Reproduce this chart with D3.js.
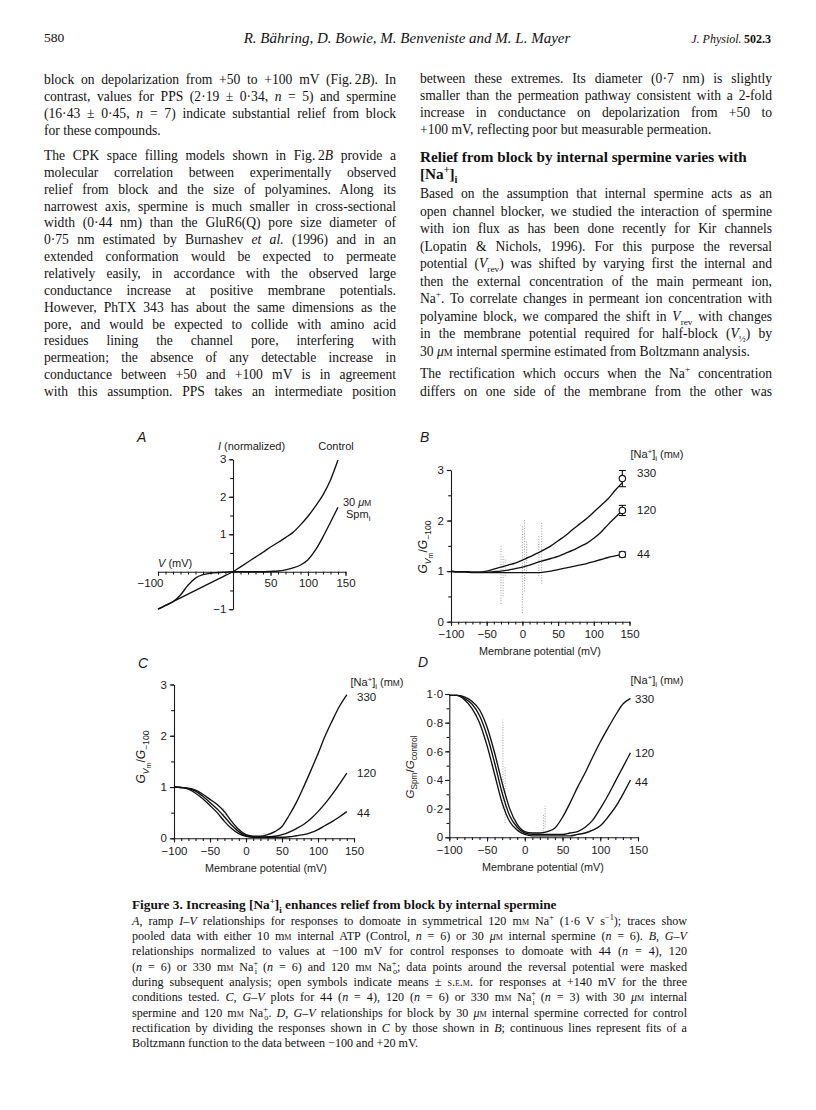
<!DOCTYPE html>
<html>
<head>
<meta charset="utf-8">
<script src="https://cdnjs.cloudflare.com/ajax/libs/d3/7.8.5/d3.min.js"></script>
<style>
  body { margin: 0; background: #fff; }
  #page { position: relative; width: 816px; height: 1110px; overflow: hidden; background: #fff; color: #111;
          font-family: "Liberation Serif", "Times New Roman", serif; }
  .ln { position: absolute; white-space: nowrap; text-align: justify; text-align-last: justify; }
  .ln.left { text-align: left; text-align-last: left; }
  .ln sup, .ln sub { font-size: 0.68em; line-height: 0; }
  .sc { font-variant: small-caps; }
  .sb { margin-left: -0.42em; }
  svg { position: absolute; left: 0; top: 0; }
  svg text { font-family: "Liberation Sans", Arial, sans-serif; fill: #1a1a1a; }
</style>
</head>
<body>
<div id="page"></div>
<script>
// ---------- data ----------

// membrane potential grid shared by all traces (mV)
const mV = [-100,-90,-80,-70,-60,-50,-40,-30,-20,-10,0,10,20,30,40,50,60,70,80,90,100,110,120,130,140];

// A: ramp I-V, normalized current
const iControl = [-1,-0.9,-0.8,-0.7,-0.6,-0.5,-0.4,-0.3,-0.2,-0.1,0,0.13,0.26,0.39,0.52,0.66,0.78,0.91,1.05,1.25,1.48,1.75,2.05,2.45,2.98];
const iSpm     = [-1,-0.9,-0.8,-0.62,-0.36,-0.17,-0.08,-0.04,-0.02,-0.01,0,0,0,0,0,0.01,0.02,0.05,0.1,0.18,0.32,0.58,0.93,1.32,1.72];

// B: G(Vm)/G(-100), control, three [Na+]i
const bNa330 = [1,0.99,0.99,0.98,0.98,1.0,1.04,1.08,1.12,1.16,1.22,1.28,1.35,1.42,1.5,1.6,1.7,1.82,1.93,2.04,2.17,2.3,2.43,2.6,2.75];
const bNa120 = [1,0.99,0.99,0.98,0.98,0.98,0.99,1.0,1.02,1.05,1.08,1.12,1.17,1.21,1.25,1.29,1.35,1.41,1.48,1.55,1.65,1.77,1.92,2.06,2.2];
const bNa44  = [0.99,0.98,0.98,0.97,0.97,0.97,0.97,0.97,0.97,0.97,0.97,0.97,0.97,0.98,1.0,1.03,1.06,1.09,1.12,1.15,1.19,1.23,1.27,1.3,1.33];
const bMeanV = 140;
const bMeans = [2.83, 2.2, 1.33];
const bSem   = [0.16, 0.1, 0.05];
// masked data around reversal potential: [mV, low, high]
const bMasked = [[-30,0.35,1.5],[-27,0.5,1.3],[-24,0.9,1.25],[0,0.17,1.9],[3,0.6,2.02],[6,0.95,1.6],[23,0.9,1.7],[27,0.75,1.98]];

// C: G(Vm)/G(-100) with 30 uM spermine
const cNa330 = [1,0.99,0.98,0.94,0.86,0.76,0.66,0.52,0.33,0.17,0.07,0.04,0.04,0.07,0.13,0.23,0.45,0.7,1.0,1.32,1.65,2.0,2.3,2.58,2.8];
const cNa120 = [1,0.99,0.97,0.92,0.82,0.7,0.57,0.42,0.26,0.13,0.05,0.03,0.02,0.03,0.04,0.07,0.12,0.19,0.27,0.38,0.52,0.68,0.86,1.06,1.27];
const cNa44  = [1,0.99,0.96,0.88,0.77,0.64,0.5,0.33,0.19,0.09,0.04,0.02,0.02,0.02,0.02,0.02,0.03,0.05,0.07,0.11,0.17,0.25,0.33,0.42,0.52];
const cMasked = [[-31,0.36,0.6],[-28,0.4,0.55],[25,0.03,0.1]];

// D: G(Spm)/G(control)
const dNa330 = [0.99,0.99,0.98,0.95,0.89,0.77,0.59,0.38,0.2,0.09,0.04,0.03,0.03,0.04,0.065,0.14,0.24,0.35,0.45,0.56,0.665,0.76,0.85,0.93,0.97];
const dNa120 = [0.99,0.99,0.97,0.93,0.85,0.71,0.52,0.31,0.15,0.07,0.03,0.02,0.02,0.02,0.02,0.02,0.03,0.04,0.07,0.12,0.2,0.29,0.39,0.49,0.59];
const dNa44  = [0.99,0.99,0.96,0.9,0.8,0.64,0.44,0.24,0.11,0.05,0.02,0.01,0.01,0.01,0.01,0.01,0.01,0.02,0.03,0.05,0.08,0.14,0.21,0.3,0.4];
const dMasked = [[-29,0.2,0.82],[-26,0.1,0.5],[25,0.04,0.16],[27,0.07,0.22]];

const naLevels = ["330", "120", "44"];

// tick values
const mvMinor = d3.range(-100, 151, 10);
const xTicksA = [-100, 50, 100, 150];
const xTicks  = [-100, -50, 0, 50, 100, 150];
const yTicksA = [-1, 1, 2, 3], yMinorA = [-1,-0.5,0,0.5,1,1.5,2,2.5,3];
const yTicksBC = [0, 1, 2, 3], yMinorBC = [0,0.5,1,1.5,2,2.5,3];
const yTicksD = [0, 0.2, 0.4, 0.6, 0.8, 1.0], yMinorD = d3.range(0, 1.01, 0.1);

// ---------- page text ----------
const sc = (s) => `<span class=sc>${s}</span>`;
const mM = "m" + sc("m");
const uM = "<i>μ</i>" + sc("m");

const leftP1 = [
  "block on depolarization from +50 to +100&nbsp;mV (Fig.&thinsp;2<i>B</i>). In",
  "contrast, values for PPS (2·19&nbsp;±&nbsp;0·34, <i>n</i>&nbsp;=&nbsp;5) and spermine",
  "(16·43&nbsp;±&nbsp;0·45, <i>n</i>&nbsp;=&nbsp;7) indicate substantial relief from block",
  "for these compounds."
];
const leftP2 = [
  "The CPK space filling models shown in Fig.&thinsp;2<i>B</i> provide a",
  "molecular correlation between experimentally observed",
  "relief from block and the size of polyamines. Along its",
  "narrowest axis, spermine is much smaller in cross-sectional",
  "width (0·44&nbsp;nm) than the GluR6(Q) pore size diameter of",
  "0·75&nbsp;nm estimated by Burnashev <i>et al.</i> (1996) and in an",
  "extended conformation would be expected to permeate",
  "relatively easily, in accordance with the observed large",
  "conductance increase at positive membrane potentials.",
  "However, PhTX 343 has about the same dimensions as the",
  "pore, and would be expected to collide with amino acid",
  "residues lining the channel pore, interfering with",
  "permeation; the absence of any detectable increase in",
  "conductance between +50 and +100&nbsp;mV is in agreement",
  "with this assumption. PPS takes an intermediate position"
];
const rightP1 = [
  "between these extremes. Its diameter (0·7&nbsp;nm) is slightly",
  "smaller than the permeation pathway consistent with a 2-fold",
  "increase in conductance on depolarization from +50 to",
  "+100&nbsp;mV, reflecting poor but measurable permeation."
];
const rightHead = [
  "Relief from block by internal spermine varies with",
  "[Na<sup>+</sup>]<sub>i</sub>"
];
const rightP2 = [
  "Based on the assumption that internal spermine acts as an",
  "open channel blocker, we studied the interaction of spermine",
  "with ion flux as has been done recently for Kir channels",
  "(Lopatin &amp; Nichols, 1996). For this purpose the reversal",
  "potential (<i>V</i><sub>rev</sub>) was shifted by varying first the internal and",
  "then the external concentration of the main permeant ion,",
  "Na<sup>+</sup>. To correlate changes in permeant ion concentration with",
  "polyamine block, we compared the shift in <i>V</i><sub>rev</sub> with changes",
  "in the membrane potential required for half-block (<i>V</i><sub>½</sub>) by",
  `30 ${uM} internal spermine estimated from Boltzmann analysis.`
];
const rightP3 = [
  "The rectification which occurs when the Na<sup>+</sup> concentration",
  "differs on one side of the membrane from the other was"
];
const capTitle = "Figure 3. Increasing [Na<sup>+</sup>]<sub>i</sub> enhances relief from block by internal spermine";
const capLines = [
  `<i>A</i>, ramp <i>I–V</i> relationships for responses to domoate in symmetrical 120 ${mM} Na<sup>+</sup> (1·6 V s<sup>−1</sup>); traces show`,
  `pooled data with either 10 ${mM} internal ATP (Control, <i>n</i>&nbsp;=&nbsp;6) or 30 ${uM} internal spermine (<i>n</i>&nbsp;=&nbsp;6). <i>B</i>, <i>G–V</i>`,
  `relationships normalized to values at −100&nbsp;mV for control responses to domoate with 44 (<i>n</i>&nbsp;=&nbsp;4), 120`,
  `(<i>n</i>&nbsp;=&nbsp;6) or 330 ${mM} Na<sup>+</sup><sub class=sb>i</sub> (<i>n</i>&nbsp;=&nbsp;6) and 120 ${mM} Na<sup>+</sup><sub class=sb>o</sub>; data points around the reversal potential were masked`,
  `during subsequent analysis; open symbols indicate means ± ${sc("s.e.m.")} for responses at +140&nbsp;mV for the three`,
  `conditions tested. <i>C</i>, <i>G–V</i> plots for 44 (<i>n</i>&nbsp;=&nbsp;4), 120 (<i>n</i>&nbsp;=&nbsp;6) or 330 ${mM} Na<sup>+</sup><sub class=sb>i</sub> (<i>n</i>&nbsp;=&nbsp;3) with 30 ${uM} internal`,
  `spermine and 120 ${mM} Na<sup>+</sup><sub class=sb>o</sub>. <i>D</i>, <i>G–V</i> relationships for block by 30 ${uM} internal spermine corrected for control`,
  `rectification by dividing the responses shown in <i>C</i> by those shown in <i>B</i>; continuous lines represent fits of a`,
  `Boltzmann function to the data between −100 and +20&nbsp;mV.`
];

// ---------- layout ----------
const page = d3.select("#page");

function textLines(lines, o) {
  lines.forEach((s, i) => {
    const left = o.left || (o.lastLeft && i === lines.length - 1);
    page.append("div")
      .attr("class", "ln" + (left ? " left" : ""))
      .style("left", o.x + "px")
      .style("top", (o.y + i * o.step - o.lh / 2 - 1.5) + "px")
      .style("width", o.w + "px")
      .style("height", o.lh + "px")
      .style("line-height", o.lh + "px")
      .style("font-size", o.fs + "px")
      .style("font-weight", o.bold ? "bold" : null)
      .style("font-style", o.italic ? "italic" : null)
      .html(s);
  });
}

// running head
textLines(["580"], {x: 44, y: 39, step: 0, w: 60, lh: 18, fs: 13.5, left: true});
page.append("div").attr("class", "ln left")
  .style("left", "207px").style("width", "400px").style("top", "29px")
  .style("line-height", "18px").style("font-size", "15px").style("font-style", "italic")
  .style("text-align", "center").style("text-align-last", "center")
  .text("R. Bähring, D. Bowie, M. Benveniste and M. L. Mayer");
page.append("div").attr("class", "ln left")
  .style("left", "571px").style("width", "200px").style("top", "30px")
  .style("line-height", "18px").style("font-size", "12px")
  .style("text-align", "right").style("text-align-last", "right")
  .html("<i>J. Physiol.</i>&thinsp;<b>502.3</b>");

const body = {w: 352, lh: 17, fs: 13.6};
textLines(leftP1,   {...body, x: 44,  y: 81,  step: 17,   lastLeft: true});
textLines(leftP2,   {...body, x: 44,  y: 157, step: 16.85});
textLines(rightP1,  {...body, x: 420, y: 80,  step: 16.9, lastLeft: true});
textLines(rightHead,{...body, x: 420, y: 158, step: 17,   fs: 15.2, bold: true, left: true});
textLines(rightP2,  {...body, x: 420, y: 195, step: 17.5, lastLeft: true});
textLines(rightP3,  {...body, x: 420, y: 375, step: 17.6});

textLines([capTitle], {x: 132, y: 905.5, step: 0, w: 555, lh: 13, fs: 13.3, bold: true, left: true});
textLines(capLines, {x: 132, y: 922.3, step: 15.3, w: 555, lh: 14, fs: 12.1, lastLeft: true});

// ---------- figure ----------
const svg = page.append("svg").attr("width", 816).attr("height", 1110);

// text with italic / sub / sup parts; y is the visual centre
function rich(parent, x, y, parts, size, anchor, rotate) {
  const base = rotate ? x + 0.35 * size : y + 0.35 * size;
  const t = parent.append("text")
    .attr("x", rotate ? base : x).attr("y", rotate ? y : base)
    .attr("font-size", size).attr("text-anchor", anchor || "start");
  if (rotate) t.attr("transform", `rotate(${rotate},${base},${y})`);
  let shift = 0;
  parts.forEach(p => {
    const [txt, f] = typeof p === "string" ? [p, ""] : [p[0], p[1]];
    let s = 0, fs = size;
    if (f.includes("b")) { s = size * 0.28; fs = size * 0.72; }
    if (f.includes("d")) { s = size * 0.48; fs = size * 0.58; }
    if (f.includes("p")) { s = -size * 0.38; fs = size * 0.7; }
    if (f.includes("s")) { fs = size * 0.76; }
    t.append("tspan").attr("dy", (s - shift).toFixed(2)).attr("font-size", fs.toFixed(2))
      .attr("font-style", f.includes("i") ? "italic" : null).text(txt);
    shift = s;
  });
  return t;
}

const naHead = ["[Na", ["+", "p"], "]", ["i", "b"], " (m", ["M", "s"], ")"];
const fmtDot = d => d === 0 ? "0" : d.toFixed(1).replace(".", "·");

function drawPanel(p) {
  const g = svg.append("g");
  const x = d3.scaleLinear().domain([-100, 150]).range(p.xRange);
  const y = d3.scaleLinear().domain(p.yDomain).range(p.yRange);
  const xAxisY = y(p.xAxisAt);
  const yAxisX = x(p.yAxisAt);

  const xg = g.append("g").attr("transform", `translate(0,${xAxisY})`);
  xg.call(d3.axisBottom(x).tickValues(mvMinor).tickSize(2.8).tickSizeOuter(0).tickFormat(""));
  xg.append("g").call(d3.axisBottom(x).tickValues(p.xTicks).tickSize(4.2).tickSizeOuter(0)
      .tickPadding(p.xPad).tickFormat(d3.format("")))
    .call(s => s.select(".domain").remove());

  const yg = g.append("g").attr("transform", `translate(${yAxisX},0)`);
  yg.call(d3.axisLeft(y).tickValues(p.yMinor).tickSize(2.8).tickSizeOuter(0).tickFormat(""));
  yg.append("g").call(d3.axisLeft(y).tickValues(p.yTicks).tickSize(4.2).tickSizeOuter(0)
      .tickPadding(p.yPad).tickFormat(p.yFmt || d3.format("")))
    .call(s => s.select(".domain").remove());

  g.selectAll(".domain, .tick line").attr("stroke", "#1a1a1a").attr("stroke-width", 1.1);
  g.selectAll(".tick text").attr("font-size", 11.5).attr("fill", "#1a1a1a")
    .attr("font-family", "Liberation Sans, Arial, sans-serif");

  // masked points
  if (p.masked) {
    g.selectAll("line.mask").data(p.masked).join("line").attr("class", "mask")
      .attr("x1", d => x(d[0])).attr("x2", d => x(d[0]))
      .attr("y1", d => y(d[1])).attr("y2", d => y(d[2]))
      .attr("stroke", "#9a9a9a").attr("stroke-width", 1).attr("stroke-dasharray", "1,1.6");
  }

  const line = d3.line().x((d, i) => x(mV[i])).y(d => y(d)).curve(d3.curveMonotoneX);
  g.selectAll("path.trace").data(p.series).join("path").attr("class", "trace")
    .attr("d", line).attr("fill", "none").attr("stroke", "#111").attr("stroke-width", 1.35);

  return {g, x, y};
}

// panel A
const A = drawPanel({
  xRange: [158, 345.5], yDomain: [-1, 3], yRange: [609.2, 459.3],
  xAxisAt: 0, yAxisAt: 0, xTicks: xTicksA, yTicks: yTicksA, yMinor: yMinorA,
  xPad: 3, yPad: 2.5, series: [iControl, iSpm]
});
A.g.selectAll(".tick text").filter(d => d === -100).attr("dx", -8);
rich(svg, 137, 437, [["A", "i"]], 14);
rich(svg, 251.5, 446, [["I", "i"], " (normalized)"], 11, "middle");
rich(svg, 336, 446, ["Control"], 11, "middle");
rich(svg, 343, 502, ["30 ", ["μ", "i"], ["M", "s"]], 11);
rich(svg, 346, 514, ["Spm", ["i", "b"]], 11);
rich(svg, 158, 563, [["V", "i"], "  (mV)"], 11);

// panel B
const B = drawPanel({
  xRange: [451, 629.5], yDomain: [0, 3], yRange: [621.7, 470],
  xAxisAt: 0, yAxisAt: -100, xTicks: xTicks, yTicks: yTicksBC, yMinor: yMinorBC,
  xPad: 3.5, yPad: 3, masked: bMasked, series: [bNa330, bNa120, bNa44]
});
const bErr = B.g.selectAll("g.err").data(bMeans).join("g").attr("class", "err");
bErr.append("line").attr("x1", B.x(bMeanV)).attr("x2", B.x(bMeanV))
  .attr("y1", (d, i) => B.y(d - bSem[i])).attr("y2", (d, i) => B.y(d + bSem[i]))
  .attr("stroke", "#111").attr("stroke-width", 1.1);
[-1, 1].forEach(sgn => {
  bErr.append("line").attr("x1", B.x(bMeanV) - 3.5).attr("x2", B.x(bMeanV) + 3.5)
    .attr("y1", (d, i) => B.y(d + sgn * bSem[i])).attr("y2", (d, i) => B.y(d + sgn * bSem[i]))
    .attr("stroke", "#111").attr("stroke-width", 1.1);
});
bErr.append("circle").attr("cx", B.x(bMeanV)).attr("cy", d => B.y(d)).attr("r", 3.2)
  .attr("fill", "#fff").attr("stroke", "#111").attr("stroke-width", 1.1);
rich(svg, 420, 437, [["B", "i"]], 14);
rich(svg, 657, 454, naHead, 11, "middle");
[473, 510, 554].forEach((yy, i) => rich(svg, 637, yy, [naLevels[i]], 11.5));
rich(svg, 540, 651, ["Membrane potential (mV)"], 10.8, "middle");
rich(svg, 423, 547, [["G", "i"], ["V", "ib"], ["m", "d"], "/", ["G", "i"], ["−100", "b"]], 12, "middle", -90);

// panel C
drawPanel({
  xRange: [174, 354], yDomain: [0, 3], yRange: [838.3, 684.5],
  xAxisAt: 0, yAxisAt: -100, xTicks: xTicks, yTicks: yTicksBC, yMinor: yMinorBC,
  xPad: 4.5, yPad: 3, masked: cMasked, series: [cNa330, cNa120, cNa44]
});
rich(svg, 138, 663, [["C", "i"]], 14);
rich(svg, 377, 682, naHead, 11, "middle");
[697, 773, 813].forEach((yy, i) => rich(svg, 357, yy, [naLevels[i]], 11.5));
rich(svg, 266, 868, ["Membrane potential (mV)"], 10.8, "middle");
rich(svg, 141, 757, [["G", "i"], ["V", "ib"], ["m", "d"], "/", ["G", "i"], ["−100", "b"]], 12, "middle", -90);

// panel D
drawPanel({
  xRange: [449.3, 638], yDomain: [0, 1], yRange: [837.3, 694],
  xAxisAt: 0, yAxisAt: -100, xTicks: xTicks, yTicks: yTicksD, yMinor: yMinorD,
  yFmt: fmtDot, xPad: 4.5, yPad: 2, masked: dMasked, series: [dNa330, dNa120, dNa44]
});
rich(svg, 418, 662, [["D", "i"]], 14);
rich(svg, 657, 680, naHead, 11, "middle");
[699, 753, 782].forEach((yy, i) => rich(svg, 635, yy, [naLevels[i]], 11.5));
rich(svg, 543, 867, ["Membrane potential (mV)"], 10.8, "middle");
rich(svg, 410, 767, [["G", "i"], ["Spm", "b"], "/", ["G", "i"], ["control", "b"]], 11.5, "middle", -90);
</script>
</body>
</html>
